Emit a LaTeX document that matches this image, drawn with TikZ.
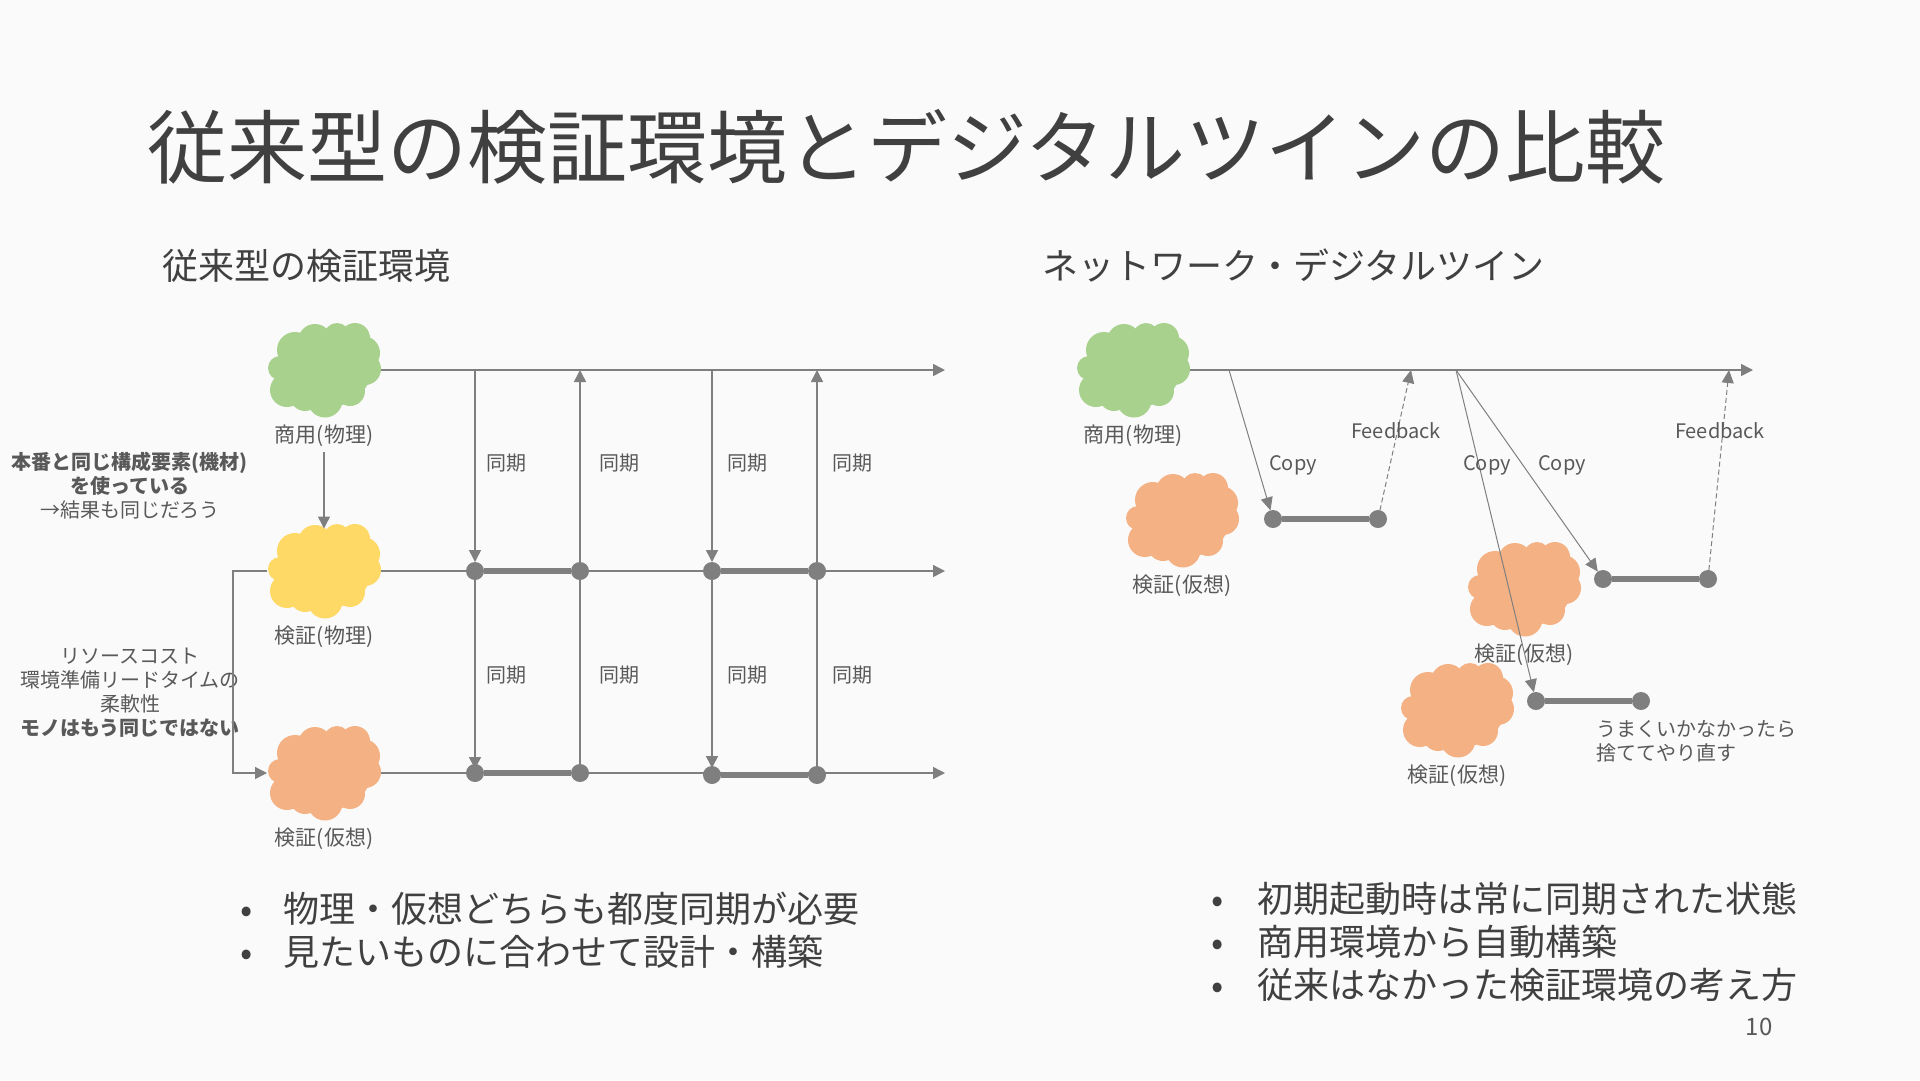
\documentclass[tikz,border=0pt]{standalone}
\usepackage{fontspec}
\setmainfont{Noto Sans CJK JP}
\usepackage{xcolor}
\usetikzlibrary{arrows.meta, positioning, backgrounds}
\definecolor{paper}{RGB}{250,250,250}
\definecolor{ink}{RGB}{64,64,64}
\definecolor{inksoft}{RGB}{89,89,89}
\definecolor{wire}{RGB}{127,127,127}
\definecolor{prod}{RGB}{169,209,142}
\definecolor{phys}{RGB}{255,217,102}
\definecolor{virt}{RGB}{244,177,131}
\pgfdeclarelayer{front}
\pgfsetlayers{main,front}
\newcommand{\bul}[1][43pt]{\makebox[#1][l]{\textbullet}}

\begin{document}
\begin{tikzpicture}[
      x=1pt, y=-1pt,
      cloudbox/.style={rectangle, minimum width=114pt, minimum height=95pt,
                  inner sep=0pt, outer sep=0pt,
                  path picture={
                    \begin{scope}[shift={(path picture bounding box.center)}]
                      \fill[#1] (0,0) ellipse (47 and 38)
                        \foreach \a/\b/\r in {-29/-20/18, -9/-29/17, 13/-34/13, 31/-32/15,
                          39/-17/17, 41/-1/16, 26/21/15, 1/30/17.5, -37/20/17, -44/-2/12,
                          -19/26/15} {(\a,\b) circle (\r)};
                    \end{scope}}},
      lbl/.style={font=\fontsize{20}{24}\selectfont, color=inksoft, align=center, inner sep=0pt},
      cloudlbl/.style={lbl, font=\fontsize{21}{24}\selectfont},
      head/.style={font=\fontsize{36}{43}\selectfont, color=ink, inner sep=0pt},
      syncdot/.style={circle, fill=wire, minimum size=18pt, inner sep=0pt, outer sep=0pt},
      line/.style={draw=wire, line width=1.5pt},
      arr/.style={-{Triangle[length=12pt, width=12pt]}, line width=1.5pt, color=wire},
      thinarr/.style={-{Triangle[length=13pt, width=12pt]}, line width=1pt, color=wire},
      fb/.style={thinarr, dash pattern=on 5pt off 3pt},
      bar/.style={line width=6.5pt, color=wire},
      node distance=7pt
    ]
      \useasboundingbox (0,0) rectangle (1920,1080);
      \fill[paper] (0,0) rectangle (1920,1080);

      \node[inner sep=0pt, anchor=west, color=ink, font=\fontsize{80}{96}\selectfont]
        (title) at (147,147) {従来型の検証環境とデジタルツインの比較};
      \node[head, anchor=west] (hl) at (162,266) {従来型の検証環境};
      \node[head, anchor=west] (hr) at (1042,266) {ネットワーク・デジタルツイン};

      % left side
      \node[cloudbox=prod] (g) at (324,370) {};
      \node[cloudbox=phys] (y) at (324,571) {};
      \node[cloudbox=virt] (o) at (324,773) {};
      \node[cloudlbl, below=of g] (gl) {商用(物理)};
      \node[cloudlbl, below=of y] (yl) {検証(物理)};
      \node[cloudlbl, below=of o] (ol) {検証(仮想)};

      \node[lbl] (same) at (130,486) {\textbf{本番と同じ構成要素(機材)}\\\textbf{を使っている}\\→結果も同じだろう};
      \node[lbl] (diff) at (130,693) {リソースコスト\\環境準備リードタイムの\\柔軟性\\\textbf{モノはもう同じではない}};

      \coordinate (t1) at (475,370); \coordinate (t2) at (580,370);
      \coordinate (t3) at (712,370); \coordinate (t4) at (817,370);
      \coordinate (ge) at (945,370); \coordinate (ye) at (945,571);
      \coordinate (oe) at (945,773); \coordinate (bend) at (233,571);

      \begin{pgfonlayer}{front}
        \node[syncdot] (a1) at (475,571) {}; \node[syncdot] (a2) at (580,571) {};
        \node[syncdot] (a3) at (712,571) {}; \node[syncdot] (a4) at (817,571) {};
        \node[syncdot] (b1) at (475,773) {}; \node[syncdot] (b2) at (580,773) {};
        \node[syncdot] (b3) at (712,775) {}; \node[syncdot] (b4) at (817,775) {};
        \draw[bar] (a1)--(a2); \draw[bar] (a3)--(a4);
        \draw[bar] (b1)--(b2); \draw[bar] (b3)--(b4);
      \end{pgfonlayer}

      \draw[arr] (g.east)--(ge); \draw[arr] (y.east)--(ye); \draw[arr] (o.east)--(oe);
      \draw[arr, shorten <=5pt, shorten >=-5pt] (gl.south)--(y.north);
      \draw[arr] (y.west)--(bend)|-(o.west);
      \draw[arr] (t1)--(a1); \draw[arr] (a2)--(t2); \draw[arr] (t3)--(a3); \draw[arr] (a4)--(t4);
      \draw[arr, shorten >=-5pt] (a1)--(b1); \draw[line] (b2)--(a2);
      \draw[arr, shorten >=-2pt] (a3)--(b3); \draw[line] (b4)--(a4);

      \node[lbl] (s1) at (506,463) {同期}; \node[lbl] (s2) at (619,463) {同期};
      \node[lbl] (s3) at (747,463) {同期}; \node[lbl] (s4) at (852,463) {同期};
      \node[lbl] (s5) at (506,675) {同期}; \node[lbl] (s6) at (619,675) {同期};
      \node[lbl] (s7) at (747,675) {同期}; \node[lbl] (s8) at (852,675) {同期};

      \node[head, anchor=north west, align=left] (ptl) at (240,892)
        {\bul 物理・仮想どちらも都度同期が必要\\\bul 見たいものに合わせて設計・構築};

      % right side
      \node[cloudbox=prod] (rg) at (1133,370) {};
      \node[cloudbox=virt] (va) at (1182,520) {};
      \node[cloudbox=virt] (vb) at (1524,589) {};
      \node[cloudbox=virt] (vc) at (1457,710) {};
      \node[cloudlbl, below=of rg] (rgl) {商用(物理)};
      \node[cloudlbl, below=of va] (val) {検証(仮想)};
      \node[cloudlbl, below=of vb] (vbl) {検証(仮想)};
      \node[cloudlbl, below=of vc] (vcl) {検証(仮想)};

      \coordinate (r1) at (1229,370); \coordinate (r2) at (1411,370);
      \coordinate (r3) at (1456,370); \coordinate (r4) at (1729,370);
      \coordinate (re) at (1753,370);

      \begin{pgfonlayer}{front}
        \node[syncdot] (p1) at (1273,519) {}; \node[syncdot] (p2) at (1378,519) {};
        \node[syncdot] (q1) at (1603,579) {}; \node[syncdot] (q2) at (1708,579) {};
        \node[syncdot] (u1) at (1536,701) {}; \node[syncdot] (u2) at (1641,701) {};
        \draw[bar] (p1)--(p2); \draw[bar] (q1)--(q2); \draw[bar] (u1)--(u2);
      \end{pgfonlayer}

      \draw[arr] (rg.east)--(re);
      \draw[thinarr] (r1)--(p1);
      \draw[thinarr] (r3)--(u1);
      \draw[thinarr] (r3)--(q1);
      \draw[fb] (p2)--(r2);
      \draw[fb] (q2)--(r4);

      \node[lbl] (c1) at (1293,465) {Copy}; \node[lbl] (c2) at (1487,465) {Copy};
      \node[lbl] (c3) at (1562,465) {Copy};
      \node[lbl] (f1) at (1396,431) {Feedback}; \node[lbl] (f2) at (1720,431) {Feedback};
      \node[lbl, anchor=north west, align=left] (retry) at (1596,720) {うまくいかなかったら\\捨ててやり直す};

      \node[head, anchor=north west, align=left] (ptr) at (1211,882)
        {\bul[46pt]初期起動時は常に同期された状態\\\bul[46pt]商用環境から自動構築\\\bul[46pt]従来はなかった検証環境の考え方};
      \node[lbl, font=\fontsize{24}{28}\selectfont] (page) at (1759,1027) {10};
    \end{tikzpicture}
\end{document}
